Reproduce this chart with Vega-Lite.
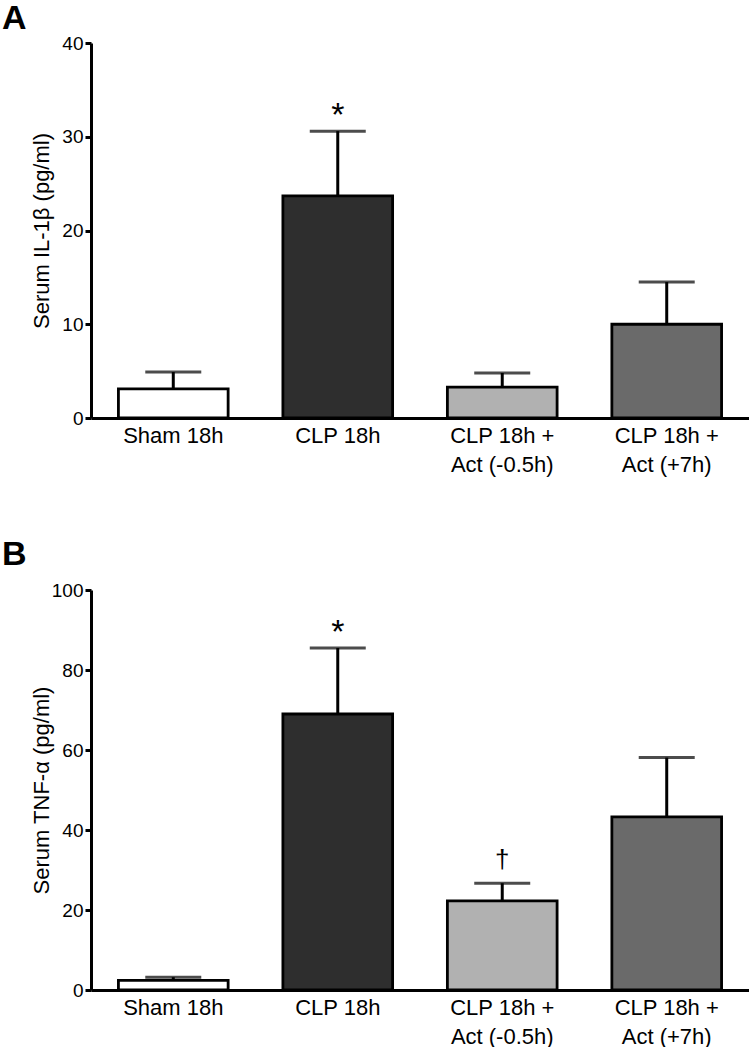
{
  "$schema": "https://vega.github.io/schema/vega-lite/v6.json",
  "background": "white",
  "padding": {"left": 2, "top": 2, "right": 0, "bottom": 0},
  "bounds": "flush",
  "spacing": 172,
  "config": {
    "font": "Liberation Sans",
    "view": {"stroke": null},
    "axis": {
      "domainColor": "black", "domainWidth": 3, "tickColor": "black", "tickWidth": 3,
      "labelColor": "black", "titleColor": "black", "grid": false,
      "labelFont": "Liberation Sans", "titleFont": "Liberation Sans", "titleFontWeight": "normal"
    },
    "title": {"color": "black", "font": "Liberation Sans"}
  },
  "datasets": {
    "il1b": [
      {"group": "Sham 18h", "mean": 3.1, "upper": 4.9, "sig": ""},
      {"group": "CLP 18h", "mean": 23.7, "upper": 30.6, "sig": "*"},
      {"group": "CLP 18h + Act (-0.5h)", "mean": 3.3, "upper": 4.8, "sig": ""},
      {"group": "CLP 18h + Act (+7h)", "mean": 10.0, "upper": 14.5, "sig": ""}
    ],
    "tnf": [
      {"group": "Sham 18h", "mean": 2.4, "upper": 3.2, "sig": ""},
      {"group": "CLP 18h", "mean": 69.0, "upper": 85.5, "sig": "*"},
      {"group": "CLP 18h + Act (-0.5h)", "mean": 22.3, "upper": 26.7, "sig": "†"},
      {"group": "CLP 18h + Act (+7h)", "mean": 43.3, "upper": 58.1, "sig": ""}
    ]
  },
  "vconcat": [
    {
      "width": 658, "height": 375,
      "title": {"text": "A", "anchor": "start", "frame": "group", "fontSize": 34, "fontWeight": "bold", "dx": -89, "offset": -29, "baseline": "alphabetic"},
      "data": {"name": "il1b"},
      "encoding": {
        "x": {
          "field": "group", "type": "nominal", "sort": null,
          "scale": {"paddingInner": 0.333, "paddingOuter": 0.1667},
          "axis": {
            "title": null, "labelAngle": 0, "ticks": false, "labelFontSize": 22, "labelPadding": 7,
            "labelLineHeight": 29, "labelBaseline": "top",
            "labelExpr": "indexof(datum.value, ' + ') > 0 ? [slice(datum.value, 0, indexof(datum.value, ' + ') + 2), slice(datum.value, indexof(datum.value, ' + ') + 3)] : datum.value"
          }
        }
      },
      "layer": [
        {
          "mark": {"type": "bar", "stroke": "black", "strokeWidth": 2.8},
          "encoding": {
            "y": {
              "field": "mean", "type": "quantitative",
              "scale": {"domain": [0, 40], "nice": false},
              "axis": {
                "title": "Serum IL-1β (pg/ml)", "values": [0, 10, 20, 30, 40], "tickSize": 6,
                "labelFontSize": 19, "labelPadding": 2, "titleFontSize": 22,
                "titleX": -43, "titleY": 187.5, "titleBaseline": "alphabetic", "titleAngle": -90, "titleAlign": "center"
              }
            },
            "fill": {
              "field": "group", "type": "nominal", "legend": null,
              "scale": {"domain": ["Sham 18h", "CLP 18h", "CLP 18h + Act (-0.5h)", "CLP 18h + Act (+7h)"], "range": ["#ffffff", "#2e2e2e", "#b1b1b1", "#6a6a6a"]}
            }
          }
        },
        {
          "mark": {"type": "rule", "strokeWidth": 3, "color": "black"},
          "encoding": {"y": {"field": "mean", "type": "quantitative"}, "y2": {"field": "upper"}}
        },
        {
          "mark": {"type": "tick", "color": "black", "thickness": 3, "size": 56},
          "encoding": {"y": {"field": "upper", "type": "quantitative"}}
        },
        {
          "transform": [{"filter": "datum.sig == '*'"}],
          "mark": {"type": "text", "fontSize": 34, "dy": -5, "baseline": "alphabetic", "color": "black"},
          "encoding": {"y": {"field": "upper", "type": "quantitative"}, "text": {"field": "sig"}}
        }
      ]
    },
    {
      "width": 658, "height": 400,
      "title": {"text": "B", "anchor": "start", "frame": "group", "fontSize": 34, "fontWeight": "bold", "dx": -89, "offset": -18, "baseline": "alphabetic"},
      "data": {"name": "tnf"},
      "encoding": {
        "x": {
          "field": "group", "type": "nominal", "sort": null,
          "scale": {"paddingInner": 0.333, "paddingOuter": 0.1667},
          "axis": {
            "title": null, "labelAngle": 0, "ticks": false, "labelFontSize": 22, "labelPadding": 7,
            "labelLineHeight": 29, "labelBaseline": "top",
            "labelExpr": "indexof(datum.value, ' + ') > 0 ? [slice(datum.value, 0, indexof(datum.value, ' + ') + 2), slice(datum.value, indexof(datum.value, ' + ') + 3)] : datum.value"
          }
        }
      },
      "layer": [
        {
          "mark": {"type": "bar", "stroke": "black", "strokeWidth": 2.8},
          "encoding": {
            "y": {
              "field": "mean", "type": "quantitative",
              "scale": {"domain": [0, 100], "nice": false},
              "axis": {
                "title": "Serum TNF-α (pg/ml)", "values": [0, 20, 40, 60, 80, 100], "tickSize": 6,
                "labelFontSize": 19, "labelPadding": 2, "titleFontSize": 22,
                "titleX": -43, "titleY": 200, "titleBaseline": "alphabetic", "titleAngle": -90, "titleAlign": "center"
              }
            },
            "fill": {
              "field": "group", "type": "nominal", "legend": null,
              "scale": {"domain": ["Sham 18h", "CLP 18h", "CLP 18h + Act (-0.5h)", "CLP 18h + Act (+7h)"], "range": ["#ffffff", "#2e2e2e", "#b1b1b1", "#6a6a6a"]}
            }
          }
        },
        {
          "mark": {"type": "rule", "strokeWidth": 3, "color": "black"},
          "encoding": {"y": {"field": "mean", "type": "quantitative"}, "y2": {"field": "upper"}}
        },
        {
          "mark": {"type": "tick", "color": "black", "thickness": 3, "size": 56},
          "encoding": {"y": {"field": "upper", "type": "quantitative"}}
        },
        {
          "transform": [{"filter": "datum.sig == '*'"}],
          "mark": {"type": "text", "fontSize": 34, "dy": -5, "baseline": "alphabetic", "color": "black"},
          "encoding": {"y": {"field": "upper", "type": "quantitative"}, "text": {"field": "sig"}}
        },
        {
          "transform": [{"filter": "datum.sig == '†'"}],
          "mark": {"type": "text", "fontSize": 26, "dy": -15, "baseline": "alphabetic", "color": "black"},
          "encoding": {"y": {"field": "upper", "type": "quantitative"}, "text": {"field": "sig"}}
        }
      ]
    }
  ]
}
